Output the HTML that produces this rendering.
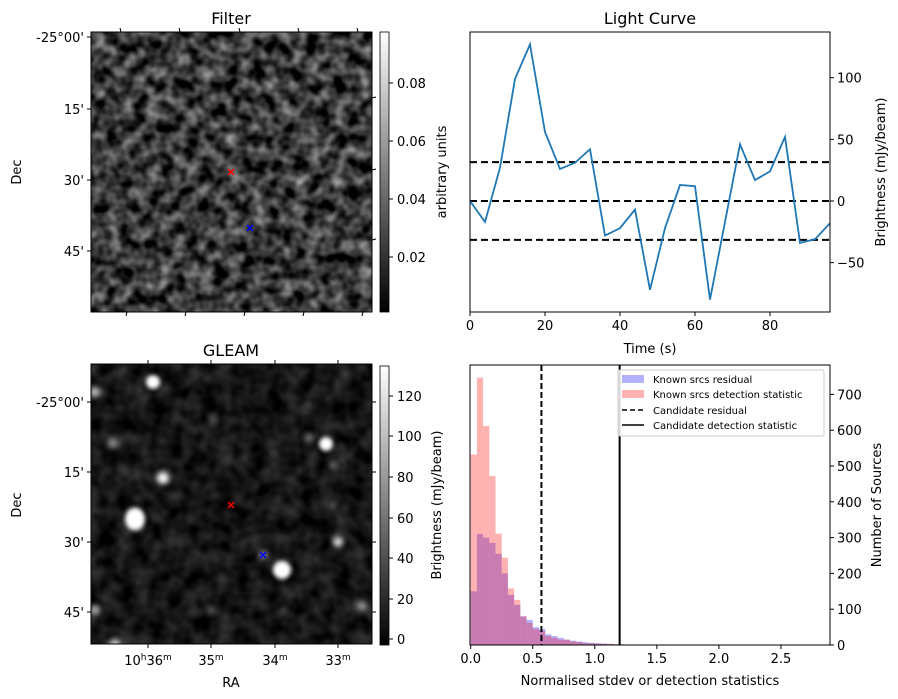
<!DOCTYPE html>
<html><head><meta charset="utf-8">
<style>
html,body{margin:0;padding:0;background:#fff;}
svg{display:block;font-family:"DejaVu Sans","Liberation Sans",sans-serif;}
</style></head>
<body>
<svg id="fig" width="898" height="699" viewBox="0 0 898 699" xmlns="http://www.w3.org/2000/svg">
<defs>
  <filter id="noiseF" x="0" y="0" width="100%" height="100%" color-interpolation-filters="sRGB">
    <feTurbulence type="fractalNoise" baseFrequency="0.075" numOctaves="2" seed="7"/>
    <feColorMatrix type="matrix" values="1.05 0 0 0 -0.3  1.05 0 0 0 -0.3  1.05 0 0 0 -0.3  0 0 0 0 1"/>
  </filter>
  <filter id="noiseG" x="0" y="0" width="100%" height="100%" color-interpolation-filters="sRGB">
    <feTurbulence type="fractalNoise" baseFrequency="0.06" numOctaves="2" seed="3"/>
    <feColorMatrix type="matrix" values="0.35 0 0 0 -0.09  0.35 0 0 0 -0.09  0.35 0 0 0 -0.09  0 0 0 0 1"/>
  </filter>
  <filter id="blur2" x="-100%" y="-100%" width="300%" height="300%" color-interpolation-filters="sRGB"><feGaussianBlur stdDeviation="2"/></filter>
  <filter id="blur3" x="-100%" y="-100%" width="300%" height="300%" color-interpolation-filters="sRGB"><feGaussianBlur stdDeviation="3"/></filter>
  <linearGradient id="cb" x1="0" y1="1" x2="0" y2="0"><stop offset="0" stop-color="#000"/><stop offset="1" stop-color="#fff"/></linearGradient>
  <clipPath id="clipG"><rect x="91" y="364" width="281" height="280"/></clipPath>
  <clipPath id="clipL"><rect x="470" y="32" width="360" height="280"/></clipPath>
</defs>

<!-- Filter panel -->
<g>
  <text x="231" y="24" font-size="16" text-anchor="middle">Filter</text>
  <rect x="91" y="32" width="281" height="280" fill="#333" filter="url(#noiseF)"/>
  <rect x="91" y="32" width="281" height="280" fill="none" stroke="#000" stroke-width="1"/>
  <g font-size="13" text-anchor="end">
    <text x="84" y="42">-25°00'</text><line x1="87" y1="37" x2="91" y2="37" stroke="#000"/>
    <text x="84" y="114">15'</text><line x1="87" y1="109" x2="91" y2="109" stroke="#000"/>
    <text x="84" y="185">30'</text><line x1="87" y1="180" x2="91" y2="180" stroke="#000"/>
    <text x="84" y="256">45'</text><line x1="87" y1="251" x2="91" y2="251" stroke="#000"/>
  </g>
  <g stroke="#000">
    <line x1="121" y1="32" x2="120" y2="28"/><line x1="180" y1="32" x2="179" y2="28"/><line x1="240" y1="32" x2="239" y2="28"/><line x1="299" y1="32" x2="298" y2="28"/><line x1="358" y1="32" x2="357" y2="28"/>
    <line x1="127" y1="312" x2="126" y2="316"/><line x1="186" y1="312" x2="185" y2="316"/><line x1="245" y1="312" x2="244" y2="316"/><line x1="304" y1="312" x2="303" y2="316"/><line x1="363" y1="312" x2="362" y2="316"/>
    <line x1="372" y1="98" x2="376" y2="97"/><line x1="372" y1="170" x2="376" y2="169"/><line x1="372" y1="240" x2="376" y2="239"/>
  </g>
  <text x="21" y="172" font-size="13" text-anchor="middle" transform="rotate(-90 21 172)">Dec</text>
  <g fill="none" stroke-width="1.5">
    <path d="M228 169 l6 6 M234 169 l-6 6" stroke="red"/>
    <path d="M247 225 l6 6 M253 225 l-6 6" stroke="blue"/>
  </g>
  <rect x="380" y="32" width="9" height="280" fill="url(#cb)" stroke="#000" stroke-width="0.8"/>
  <g font-size="13">
    <line x1="389" y1="83" x2="393" y2="83" stroke="#000"/><text x="397" y="88">0.08</text>
    <line x1="389" y1="141" x2="393" y2="141" stroke="#000"/><text x="397" y="146">0.06</text>
    <line x1="389" y1="199" x2="393" y2="199" stroke="#000"/><text x="397" y="204">0.04</text>
    <line x1="389" y1="257" x2="393" y2="257" stroke="#000"/><text x="397" y="262">0.02</text>
  </g>
  <text x="446" y="172" font-size="13" text-anchor="middle" transform="rotate(-90 446 172)">arbitrary units</text>
</g>

<!-- GLEAM panel -->
<g>
  <text x="231" y="356" font-size="16" text-anchor="middle">GLEAM</text>
  <rect x="91" y="364" width="281" height="280" fill="#111" filter="url(#noiseG)"/>
  <g id="blobs" clip-path="url(#clipG)"></g>
  <rect x="91" y="364" width="281" height="280" fill="none" stroke="#000" stroke-width="1"/>
  <g font-size="13" text-anchor="end">
    <text x="84" y="407">-25°00'</text><line x1="87" y1="402" x2="91" y2="402" stroke="#000"/>
    <text x="84" y="477">15'</text><line x1="87" y1="472" x2="91" y2="472" stroke="#000"/>
    <text x="84" y="547">30'</text><line x1="87" y1="542" x2="91" y2="542" stroke="#000"/>
    <text x="84" y="617">45'</text><line x1="87" y1="612" x2="91" y2="612" stroke="#000"/>
  </g>
  <g stroke="#000">
    <line x1="148" y1="364" x2="148" y2="360"/><line x1="211" y1="364" x2="211" y2="360"/><line x1="275" y1="364" x2="275" y2="360"/><line x1="338" y1="364" x2="338" y2="360"/>
    <line x1="148" y1="644" x2="148" y2="648"/><line x1="211" y1="644" x2="211" y2="648"/><line x1="275" y1="644" x2="275" y2="648"/><line x1="338" y1="644" x2="338" y2="648"/>
    <line x1="372" y1="402" x2="376" y2="402"/><line x1="372" y1="472" x2="376" y2="472"/><line x1="372" y1="542" x2="376" y2="542"/><line x1="372" y1="612" x2="376" y2="612"/>
  </g>
  <g font-size="13" text-anchor="middle">
    <text x="148" y="665">10<tspan font-size="9" dy="-5">h</tspan><tspan dy="5">36</tspan><tspan font-size="9" dy="-5">m</tspan></text>
    <text x="211" y="665">35<tspan font-size="9" dy="-5">m</tspan></text>
    <text x="275" y="665">34<tspan font-size="9" dy="-5">m</tspan></text>
    <text x="338" y="665">33<tspan font-size="9" dy="-5">m</tspan></text>
  </g>
  <text x="231" y="687" font-size="13" text-anchor="middle">RA</text>
  <text x="21" y="505" font-size="13" text-anchor="middle" transform="rotate(-90 21 505)">Dec</text>
  <g fill="none" stroke-width="1.5">
    <path d="M228 502 l6 6 M234 502 l-6 6" stroke="red"/>
    <path d="M260 552 l6 6 M266 552 l-6 6" stroke="blue"/>
  </g>
  <rect x="380" y="366" width="9" height="279" fill="url(#cb)" stroke="#000" stroke-width="0.8"/>
  <g font-size="13">
    <line x1="389" y1="396" x2="393" y2="396" stroke="#000"/><text x="397" y="401">120</text>
    <line x1="389" y1="436" x2="393" y2="436" stroke="#000"/><text x="397" y="441">100</text>
    <line x1="389" y1="477" x2="393" y2="477" stroke="#000"/><text x="397" y="482">80</text>
    <line x1="389" y1="518" x2="393" y2="518" stroke="#000"/><text x="397" y="523">60</text>
    <line x1="389" y1="558" x2="393" y2="558" stroke="#000"/><text x="397" y="563">40</text>
    <line x1="389" y1="599" x2="393" y2="599" stroke="#000"/><text x="397" y="604">20</text>
    <line x1="389" y1="639" x2="393" y2="639" stroke="#000"/><text x="397" y="644">0</text>
  </g>
  <text x="441" y="505" font-size="13" text-anchor="middle" transform="rotate(-90 441 505)">Brightness (mJy/beam)</text>
</g>

<!-- Light curve -->
<g id="lc">
  <text x="650" y="24" font-size="16" text-anchor="middle">Light Curve</text>
  <g id="lcMarks" clip-path="url(#clipL)"></g>
  <rect x="470" y="32" width="360" height="280" fill="none" stroke="#000" stroke-width="1"/>
  <g id="lcTicks" font-size="13"></g>
  <text x="650" y="353" font-size="13" text-anchor="middle">Time (s)</text>
  <text x="885" y="172" font-size="13" text-anchor="middle" transform="rotate(-90 885 172)">Brightness (mJy/beam)</text>
</g>

<!-- Histogram -->
<g id="hist">
  <g id="hMarks"></g>
  <rect x="470" y="365" width="360" height="280" fill="none" stroke="#000" stroke-width="1"/>
  <g id="hTicks" font-size="13"></g>
  <text x="650" y="685" font-size="13" text-anchor="middle">Normalised stdev or detection statistics</text>
  <text x="881" y="505" font-size="13" text-anchor="middle" transform="rotate(-90 881 505)">Number of Sources</text>
  <g font-size="10">
    <rect x="618" y="370" width="206" height="66" fill="#fff" fill-opacity="0.85" stroke="#ccc" rx="2"/>
    <rect x="622" y="375" width="22" height="8" fill="rgba(0,0,255,0.3)"/><text x="653" y="383">Known srcs residual</text>
    <rect x="622" y="390" width="22" height="8" fill="rgba(255,0,0,0.3)"/><text x="653" y="398">Known srcs detection statistic</text>
    <line x1="622" y1="410" x2="644" y2="410" stroke="#000" stroke-width="1.5" stroke-dasharray="5,3"/><text x="653" y="414">Candidate residual</text>
    <line x1="622" y1="425" x2="644" y2="425" stroke="#000" stroke-width="1.5"/><text x="653" y="429">Candidate detection statistic</text>
  </g>
</g>
</svg>
<script>
// ---- Light curve data ----
const lcTimes = [0,4,8,12,16,20,24,28,32,36,40,44,48,52,56,60,64,68,72,76,80,84,88,92,96];
const lcFlux = [0,-17,27,99,127,56,26,31,42,-28,-22,-7,-72,-22,13,12,-80,-17,46,17,24,52,-34,-31,-18];
const lcThresholds = [31.5,0,-31.5];
const lcXTicks = [0,20,40,60,80];
const lcYTicks = [100,50,0,-50];
// ---- Histogram data ----
const histBinWidth = 0.05;
const histResidual = [150,310,300,285,255,200,140,112,80,70,50,45,30,25,20,15,12,10,8,6,5,4,3,2,2,1,1,1,0,1,1,1,1,0,0,0];
const histDetection = [532,747,612,472,311,244,158,126,80,62,45,40,25,20,15,15,10,8,5,5,4,3,3,2,1,1,1,1,1,0,1,1,0,0,0,0,0,0,0,0,0,0,0,0,0,0,0,0,0,0,0,0,0,0,0,1];
const histCandResidual = 0.57;
const histCandDetection = 1.2;
const histXTicks = [0.0,0.5,1.0,1.5,2.0,2.5];
const histYTicks = [0,100,200,300,400,500,600,700];
// ---- GLEAM sources: [x,y,radius,brightness] ----
const gleamSrcs = [[62,18,7,1],[4,28,5,0.8],[22,79,5,0.55],[72,114,6,1],[44,155,10,1],[122,55,4,0.35],[235,80,7,1],[218,74,5,0.45],[242,101,4,0.45],[217,41,4,0.3],[242,141,4,0.4],[247,178,5,0.9],[191,206,9,1],[172,191,4,0.6],[120,246,4,0.4],[192,247,4,0.3],[271,242,5,0.6],[4,246,5,0.7],[24,281,6,0.8]];

const NS='http://www.w3.org/2000/svg';
function mk(tag, attrs, parent){const e=document.createElementNS(NS,tag);for(const k in attrs)e.setAttribute(k,attrs[k]);parent.appendChild(e);return e;}

const lx=t=>470+(t-0)/96*360;
const ly=v=>201-v*1.233;
const lcM=document.getElementById('lcMarks');
lcThresholds.forEach(v=>{
  const l=mk('line',{x1:470,x2:830,y1:ly(v),y2:ly(v),stroke:'#000','stroke-width':2,'stroke-dasharray':'7,4'},lcM);
  
  
});
const pl=mk('polyline',{points:lcTimes.map((t,i)=>lx(t)+','+ly(lcFlux[i])).join(' '),fill:'none',stroke:'#1f77b4','stroke-width':1.8},lcM);


const lcT=document.getElementById('lcTicks');
lcXTicks.forEach(t=>{
  mk('line',{x1:lx(t),x2:lx(t),y1:312,y2:316,stroke:'#000'},lcT);
  const tx=mk('text',{x:lx(t),y:330,'text-anchor':'middle'},lcT);tx.textContent=t;
  
  
});
lcYTicks.forEach(v=>{
  mk('line',{x1:830,x2:834,y1:ly(v),y2:ly(v),stroke:'#000'},lcT);
  const tx=mk('text',{x:837,y:ly(v)+5},lcT);tx.textContent=(v<0?'\u2212'+(-v):v);
  
  
});

const hx=v=>470.7+v*124.1;
const hy=c=>645-c*0.358;
const hM=document.getElementById('hMarks');
function drawHist(arr,color,name){
  arr.forEach((c,i)=>{
    if(c<=0)return;
    const x0=hx(i*histBinWidth),x1=hx((i+1)*histBinWidth);
    const r=mk('rect',{x:x0,y:hy(c),width:x1-x0,height:645-hy(c),fill:color},hM);
    
    
  });
}
drawHist(histResidual,'rgba(0,0,255,0.3)','residual-bar');
drawHist(histDetection,'rgba(255,0,0,0.3)','detection-bar');
const v1=mk('line',{x1:hx(histCandResidual),x2:hx(histCandResidual),y1:365,y2:645,stroke:'#000','stroke-width':2,'stroke-dasharray':'6,3'},hM);


const v2=mk('line',{x1:hx(histCandDetection),x2:hx(histCandDetection),y1:365,y2:645,stroke:'#000','stroke-width':2},hM);


const hT=document.getElementById('hTicks');
histXTicks.forEach(t=>{
  mk('line',{x1:hx(t),x2:hx(t),y1:645,y2:649,stroke:'#000'},hT);
  const tx=mk('text',{x:hx(t),y:663,'text-anchor':'middle'},hT);tx.textContent=t.toFixed(1);
  
  
});
histYTicks.forEach(v=>{
  mk('line',{x1:830,x2:834,y1:hy(v),y2:hy(v),stroke:'#000'},hT);
  const tx=mk('text',{x:837,y:hy(v)+5},hT);tx.textContent=v;
  
  
});

const bl=document.getElementById('blobs');
gleamSrcs.forEach(s=>{
  const g=Math.round(255*s[3]);
  const c=mk('ellipse',{cx:91+s[0],cy:364+s[1],rx:s[2],ry:s[2]*(s[2]>9?1.15:1),fill:'rgb('+g+','+g+','+g+')',filter:s[2]>6?'url(#blur2)':'url(#blur3)'},bl);
  
  
});
</script>
</body></html>
